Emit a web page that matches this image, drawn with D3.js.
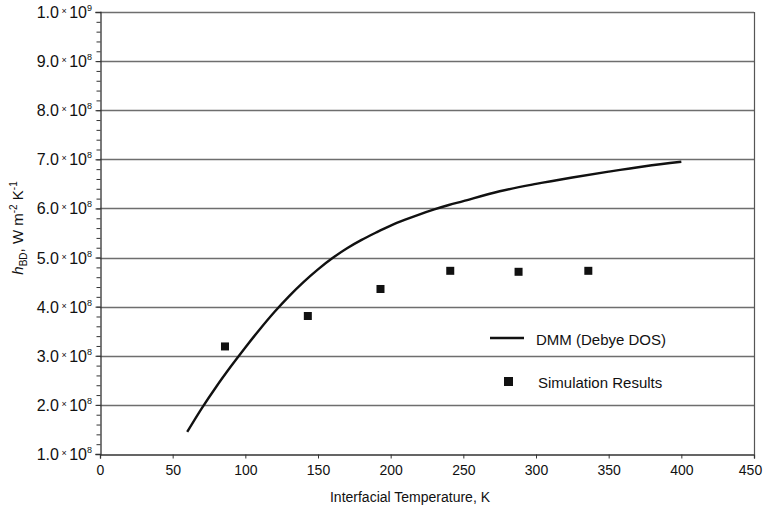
<!DOCTYPE html>
<html>
<head>
<meta charset="utf-8">
<script src="https://cdn.jsdelivr.net/npm/d3@7"></script>
<style>
  body { margin: 0; background: #fff; }
  text { font-family: "Liberation Sans", Arial, sans-serif; fill: #111; }
</style>
</head>
<body>
<div id="chart"></div>
<script>
// DMM (Debye DOS) curve (T in K, h in W m^-2 K^-1)
var dmmT = [60, 70, 80, 90, 100, 110, 120, 130, 140, 150, 160, 170, 180, 190, 200, 210, 220, 230, 240, 250, 275, 300, 325, 350, 375, 400];
var dmmH = [1.45e8, 1.93e8, 2.37e8, 2.78e8, 3.17e8, 3.54e8, 3.89e8, 4.21e8, 4.50e8, 4.76e8, 4.99e8, 5.19e8, 5.36e8, 5.51e8, 5.65e8, 5.77e8, 5.88e8, 5.98e8, 6.07e8, 6.15e8, 6.35e8, 6.50e8, 6.63e8, 6.75e8, 6.86e8, 6.95e8];

// simulation results
var simT = [86, 143, 193, 241, 288, 336];
var simH = [3.19e8, 3.81e8, 4.36e8, 4.73e8, 4.71e8, 4.73e8];

var xTicks = [0, 50, 100, 150, 200, 250, 300, 350, 400, 450];
var yMant = ["1.0", "2.0", "3.0", "4.0", "5.0", "6.0", "7.0", "8.0", "9.0", "1.0"];
var yExp  = ["8", "8", "8", "8", "8", "8", "8", "8", "8", "9"];
var yTicks = [1e8, 2e8, 3e8, 4e8, 5e8, 6e8, 7e8, 8e8, 9e8, 1e9];

var W = 764, H = 511;
var margin = {top: 12, right: 10, bottom: 57, left: 100},
    width  = W - margin.left - margin.right,
    height = H - margin.top - margin.bottom;

var x = d3.scaleLinear().domain([0, 450]).range([0, width]);
var y = d3.scaleLinear().domain([1e8, 1e9]).range([height, 0]);

var svg = d3.select("#chart").append("svg")
    .attr("width", W)
    .attr("height", H);

var g = svg.append("g")
    .attr("transform", "translate(" + margin.left + "," + margin.top + ")");

// gridlines
g.selectAll("line.grid")
  .data(yTicks.slice(1))
  .enter().append("line")
    .attr("class", "grid")
    .attr("x1", 0).attr("x2", width)
    .attr("y1", function (d) { return Math.round(y(d)) + 0.5; })
    .attr("y2", function (d) { return Math.round(y(d)) + 0.5; })
    .style("stroke", "#6e6e6e")
    .style("stroke-width", 1.3);

// right border
g.append("line")
    .attr("x1", width + 0.5).attr("x2", width + 0.5)
    .attr("y1", 0).attr("y2", height)
    .style("stroke", "#555").style("stroke-width", 1.2);

// y minor ticks
var minor = d3.range(1e8, 1e9 + 1, 2e7);
g.append("g")
    .attr("transform", "translate(0.5,0)")
    .call(d3.axisLeft(y).tickValues(minor).tickSize(4).tickFormat(""))
    .call(function (s) {
      s.select(".domain").remove();
      s.selectAll("line").style("stroke", "#333");
    });

// y axis
var yAxis = g.append("g")
    .attr("transform", "translate(0.5,0)")
    .call(d3.axisLeft(y).tickValues(yTicks).tickSize(5).tickPadding(8).tickFormat(""));
yAxis.select(".domain").style("stroke", "#333").style("stroke-width", 1.3);
yAxis.selectAll("line").style("stroke", "#333");

// y tick labels: mantissa x 10^exp
yTicks.forEach(function (v, i) {
  var t = g.append("text")
      .attr("x", -8)
      .attr("y", y(v) + 6)
      .attr("text-anchor", "end")
      .style("font-size", "16px");
  t.append("tspan").text(yMant[i]);
  t.append("tspan").text(" \u00d7 ").style("font-size", "9px").attr("dy", -4);
  t.append("tspan").text("10").style("font-size", "16px").attr("dy", 4);
  t.append("tspan").text(yExp[i]).style("font-size", "9px").attr("dy", -7);
});

// x axis
var xAxis = g.append("g")
    .attr("transform", "translate(0," + (height + 0.5) + ")")
    .call(d3.axisBottom(x).tickValues(xTicks).tickSize(4).tickPadding(7));
xAxis.select(".domain").style("stroke", "#333").style("stroke-width", 1.3);
xAxis.selectAll("line").style("stroke", "#333");
xAxis.selectAll("text")
    .style("font-size", "14px")
    .style("font-family", "'Liberation Sans', Arial, sans-serif")
    .attr("fill", "#111")
    .attr("dx", function (d) { return d === 450 ? -4 : 0; });

// axis titles
svg.append("text")
    .attr("x", 410)
    .attr("y", 502)
    .attr("text-anchor", "middle")
    .style("font-size", "14px")
    .text("Interfacial Temperature, K");

var yl = svg.append("text")
    .attr("transform", "translate(23,228) rotate(-90)")
    .attr("text-anchor", "middle")
    .style("font-size", "15px");
yl.append("tspan").text("h").style("font-style", "italic");
yl.append("tspan").text("BD").style("font-size", "10px").attr("dy", 4);
yl.append("tspan").text(", W m").attr("dy", -4);
yl.append("tspan").text("-2").style("font-size", "10px").attr("dy", -6);
yl.append("tspan").text(" K").attr("dy", 6);
yl.append("tspan").text("-1").style("font-size", "10px").attr("dy", -6);

// DMM curve
var dmm = dmmT.map(function (t, i) { return {t: t, h: dmmH[i]}; });
var line = d3.line()
    .x(function (d) { return x(d.t); })
    .y(function (d) { return y(d.h); })
    .curve(d3.curveCatmullRom);

g.append("path")
    .datum(dmm)
    .attr("d", line)
    .style("fill", "none")
    .style("stroke", "#111")
    .style("stroke-width", 2.4);

// simulation squares
var sim = simT.map(function (t, i) { return {t: t, h: simH[i]}; });
var sq = 8;
g.selectAll("rect.sim")
  .data(sim)
  .enter().append("rect")
    .attr("class", "sim")
    .attr("x", function (d) { return x(d.t) - sq / 2; })
    .attr("y", function (d) { return y(d.h) - sq / 2; })
    .attr("width", sq).attr("height", sq)
    .style("fill", "#111");

// legend
var lg = svg.append("g");
lg.append("line")
    .attr("x1", 490).attr("x2", 524)
    .attr("y1", 338).attr("y2", 338)
    .style("stroke", "#111").style("stroke-width", 2.4);
lg.append("text")
    .attr("x", 536).attr("y", 345)
    .style("font-size", "15px")
    .text("DMM (Debye DOS)");
lg.append("rect")
    .attr("x", 504).attr("y", 377)
    .attr("width", 9).attr("height", 9)
    .style("fill", "#111");
lg.append("text")
    .attr("x", 538).attr("y", 388)
    .style("font-size", "15px")
    .text("Simulation Results");
</script>
</body>
</html>
